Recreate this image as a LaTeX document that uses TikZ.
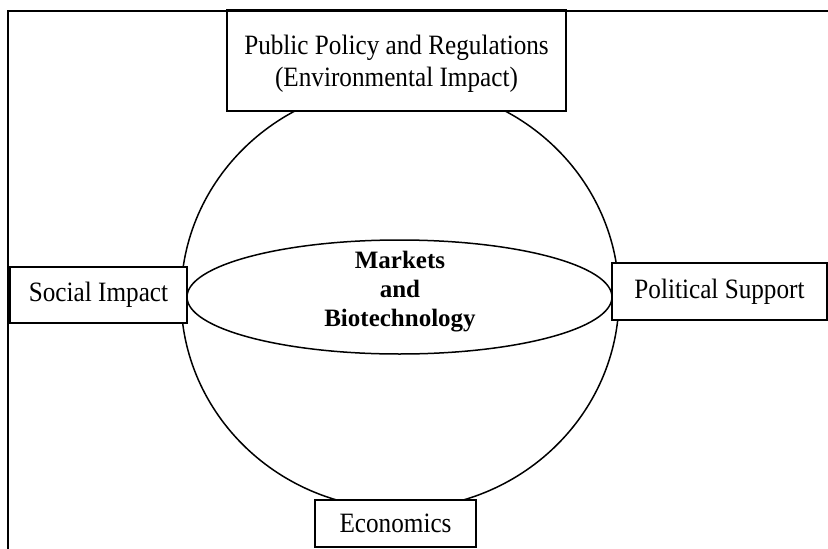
\documentclass[tikz,border=0pt]{standalone}
\usepackage{fontspec}
\setmainfont{Liberation Serif}
\newfontfamily\condserif[FakeStretch=0.9]{Liberation Serif}
\usetikzlibrary{shapes.geometric}
\begin{document}
\begin{tikzpicture}[x=1pt,y=-1pt,
  framestyle/.style={draw=black, line width=1.6pt},
  ringstyle/.style={draw=black, line width=1.5pt},
  boxstyle/.style={draw=black, line width=1.5pt, fill=white, inner sep=0pt,
    font=\condserif\fontsize{28}{32}\selectfont, align=center},
  labelstyle/.style={inner sep=0pt, align=center,
    font=\condserif\fontsize{28}{32}\selectfont},
  corestyle/.style={inner sep=0pt, align=center,
    font=\bfseries\fontsize{25}{29}\selectfont}]
\useasboundingbox (0,0) rectangle (828,549);
\fill[white] (0,0) rectangle (828,549);
\coordinate (fbl) at (8,549);
\coordinate (ftl) at (8,11);
\coordinate (ftr) at (828,11);
\draw[framestyle] (fbl) -- (ftl) -- (ftr);
\draw[ringstyle] (400,297) ellipse [x radius=219, y radius=212];
\draw[ringstyle] (399.5,297) ellipse [x radius=212.5, y radius=57];
\node[corestyle] (core) at (400,292) {Markets\\and\\Biotechnology};
\node[boxstyle, minimum width=339pt, minimum height=100pt] (policy) at (396.5,61) {};
\draw[line width=2pt] (policy.north west) -- (policy.north east);
\node[labelstyle] (policytext) at (396.5,64)
  {Public Policy and Regulations\\(Environmental Impact)};
\node[boxstyle, minimum width=177pt, minimum height=56pt] (social) at (98.5,295) {Social Impact};
\node[boxstyle, minimum width=215pt, minimum height=57pt] (political) at (719.5,291.5) {Political Support};
\node[boxstyle, minimum width=161pt, minimum height=47pt] (economics) at (395.5,523.5) {Economics};
\end{tikzpicture}
\end{document}
